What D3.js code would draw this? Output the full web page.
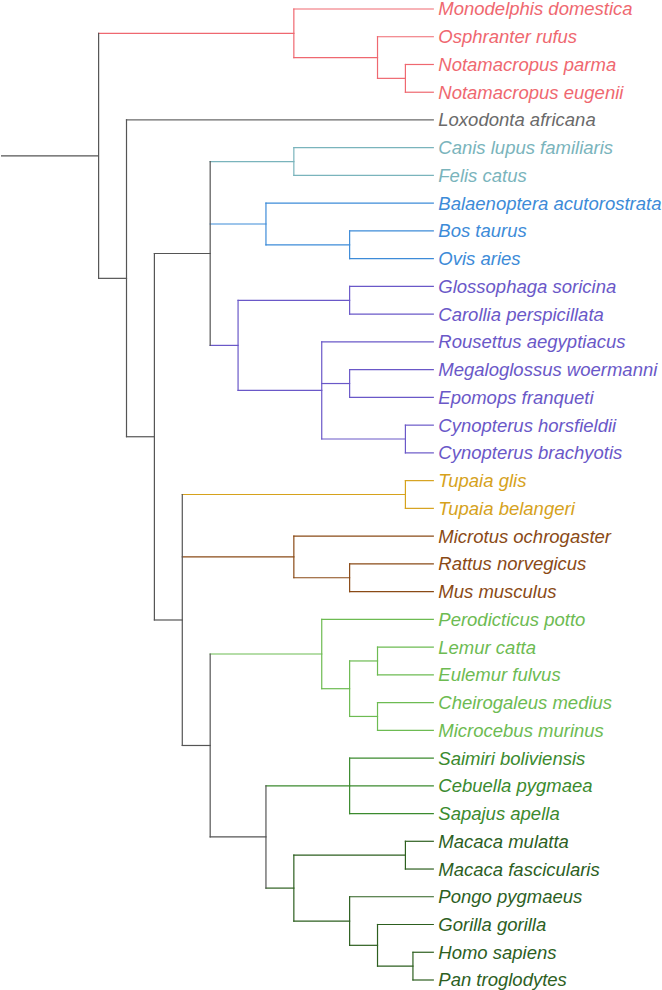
<!DOCTYPE html>
<html>
<head>
<meta charset="utf-8">
<script src="https://cdn.jsdelivr.net/npm/d3@7"></script>
<style>
  html, body { margin: 0; padding: 0; background: #ffffff; }
  svg { display: block; }
</style>
</head>
<body>
<div id="chart"></div>
<script>
// ---- Data ----
// Tip labels, top to bottom
const species = [
  "Monodelphis domestica", "Osphranter rufus", "Notamacropus parma", "Notamacropus eugenii",
  "Loxodonta africana",
  "Canis lupus familiaris", "Felis catus",
  "Balaenoptera acutorostrata", "Bos taurus", "Ovis aries",
  "Glossophaga soricina", "Carollia perspicillata", "Rousettus aegyptiacus",
  "Megaloglossus woermanni", "Epomops franqueti", "Cynopterus horsfieldii", "Cynopterus brachyotis",
  "Tupaia glis", "Tupaia belangeri",
  "Microtus ochrogaster", "Rattus norvegicus", "Mus musculus",
  "Perodicticus potto", "Lemur catta", "Eulemur fulvus", "Cheirogaleus medius", "Microcebus murinus",
  "Saimiri boliviensis", "Cebuella pygmaea", "Sapajus apella",
  "Macaca mulatta", "Macaca fascicularis", "Pongo pygmaeus", "Gorilla gorilla",
  "Homo sapiens", "Pan troglodytes"
];
// Parent clade of each tip (same order as species)
const speciesParent = [
  "Marsupialia", "Macropodidae", "Notamacropus", "Notamacropus",
  "Placentalia",
  "Carnivora", "Carnivora",
  "Cetartiodactyla", "Bovidae", "Bovidae",
  "Phyllostomidae", "Phyllostomidae", "Pteropodidae",
  "MegaEpomops", "MegaEpomops", "Cynopterus", "Cynopterus",
  "Tupaiidae", "Tupaiidae",
  "Rodentia", "Murinae", "Murinae",
  "Strepsirrhini", "Lemuridae", "Lemuridae", "Cheirogaleidae", "Cheirogaleidae",
  "Platyrrhini", "Platyrrhini", "Platyrrhini",
  "Macaca", "Macaca", "Hominidae", "Homininae",
  "Hominini", "Hominini"
];
const tipDepth = 12;
const rootEdgeStart = -3.5;

// Internal clades: name, parent, depth (node position from root)
const cladeNames   = ["Root", "Marsupialia", "Macropodidae", "Notamacropus", "Placentalia", "Boreoeutheria",
  "Laurasiatheria", "Carnivora", "Cetartiodactyla", "Bovidae", "Chiroptera", "Phyllostomidae",
  "Pteropodidae", "MegaEpomops", "Cynopterus", "Euarchontoglires", "Tupaiidae", "Rodentia", "Murinae",
  "Primates", "Strepsirrhini", "Lemuriformes", "Lemuridae", "Cheirogaleidae", "Haplorhini",
  "Platyrrhini", "Catarrhini", "Macaca", "Hominidae", "Homininae", "Hominini"];
const cladeParents = ["", "Root", "Marsupialia", "Macropodidae", "Root", "Placentalia",
  "Boreoeutheria", "Laurasiatheria", "Laurasiatheria", "Cetartiodactyla", "Laurasiatheria", "Chiroptera",
  "Chiroptera", "Pteropodidae", "Pteropodidae", "Boreoeutheria", "Euarchontoglires", "Euarchontoglires", "Rodentia",
  "Euarchontoglires", "Primates", "Strepsirrhini", "Lemuriformes", "Lemuriformes", "Primates",
  "Haplorhini", "Haplorhini", "Catarrhini", "Catarrhini", "Hominidae", "Homininae"];
const cladeDepths  = [0, 7, 10, 11, 1, 2,
  4, 7, 6, 9, 5, 9,
  8, 9, 11, 3, 11, 7, 9,
  4, 8, 9, 10, 10, 6,
  9, 7, 11, 9, 10, 11.27];

// Coloured groups
const groupClades = ["Marsupialia", "Loxodonta africana", "Carnivora", "Cetartiodactyla", "Chiroptera",
  "Tupaiidae", "Rodentia", "Strepsirrhini", "Platyrrhini", "Catarrhini"];
const groupColors = ["#EF6870", "#6a6a6a", "#7AB4BC", "#3D8BD8", "#6A58C8",
  "#D6A21C", "#8A4A16", "#6DBB52", "#3B8A2E", "#2D5F1F"];
const backboneColor = "#555555";

// ---- Build hierarchy ----
const table = [];
cladeNames.forEach((n, i) => table.push({ id: n, parentId: cladeParents[i] || null, depthVal: cladeDepths[i] }));
species.forEach((n, i) => table.push({ id: n, parentId: speciesParent[i], depthVal: tipDepth, tip: true }));

const root = d3.stratify().id(d => d.id).parentId(d => d.parentId)(table);
// keep tip order
const order = new Map(species.map((s, i) => [s, i]));
root.eachAfter(n => {
  if (n.children) {
    n.children.sort((a, b) => a.data.minOrder - b.data.minOrder);
    n.data.minOrder = d3.min(n.children, c => c.data.minOrder);
  } else {
    n.data.minOrder = order.get(n.id);
  }
});

const W = 662, H = 990;
const x = d3.scaleLinear().domain([rootEdgeStart, tipDepth]).range([1, 433.3]);
const y = d3.scalePoint().domain(species).range([9, 980]);

root.eachAfter(n => {
  n.px = x(n.data.depthVal);
  if (n.children) {
    n.py = (n.children[0].py + n.children[n.children.length - 1].py) / 2;
  } else {
    n.py = y(n.id);
  }
});

const colorMap = new Map(groupClades.map((g, i) => [g, groupColors[i]]));
root.eachBefore(n => {
  if (colorMap.has(n.id)) n.color = colorMap.get(n.id);
  else n.color = n.parent ? n.parent.color : backboneColor;
});

// ---- Draw ----
const svg = d3.select("#chart").append("svg").attr("width", W).attr("height", H);
const g = svg.append("g");

// root edge
g.append("line")
  .attr("x1", x(rootEdgeStart)).attr("x2", root.px)
  .attr("y1", root.py).attr("y2", root.py)
  .attr("stroke", backboneColor).attr("stroke-width", 1.2);

// horizontal edges
g.selectAll("line.h").data(root.descendants().filter(d => d.parent)).join("line")
  .attr("class", "h")
  .attr("x1", d => d.parent.px).attr("x2", d => d.px)
  .attr("y1", d => d.py).attr("y2", d => d.py)
  .attr("stroke", d => d.color).attr("stroke-width", 1.2)
  .attr("stroke-linecap", "square");

// vertical connectors
g.selectAll("line.v").data(root.descendants().filter(d => d.children)).join("line")
  .attr("class", "v")
  .attr("x1", d => d.px).attr("x2", d => d.px)
  .attr("y1", d => d.children[0].py).attr("y2", d => d.children[d.children.length - 1].py)
  .attr("stroke", d => d.color).attr("stroke-width", 1.2)
  .attr("stroke-linecap", "square");

// tip labels
g.selectAll("text.tip").data(root.leaves()).join("text")
  .attr("class", "tip")
  .attr("x", d => d.px + 5)
  .attr("y", d => d.py)
  .attr("dy", "0.35em")
  .attr("fill", d => d.color)
  .style("font-family", "'Liberation Sans', Arial, sans-serif")
  .style("font-style", "italic")
  .style("font-size", "18.5px")
  .text(d => d.id);
</script>
</body>
</html>
